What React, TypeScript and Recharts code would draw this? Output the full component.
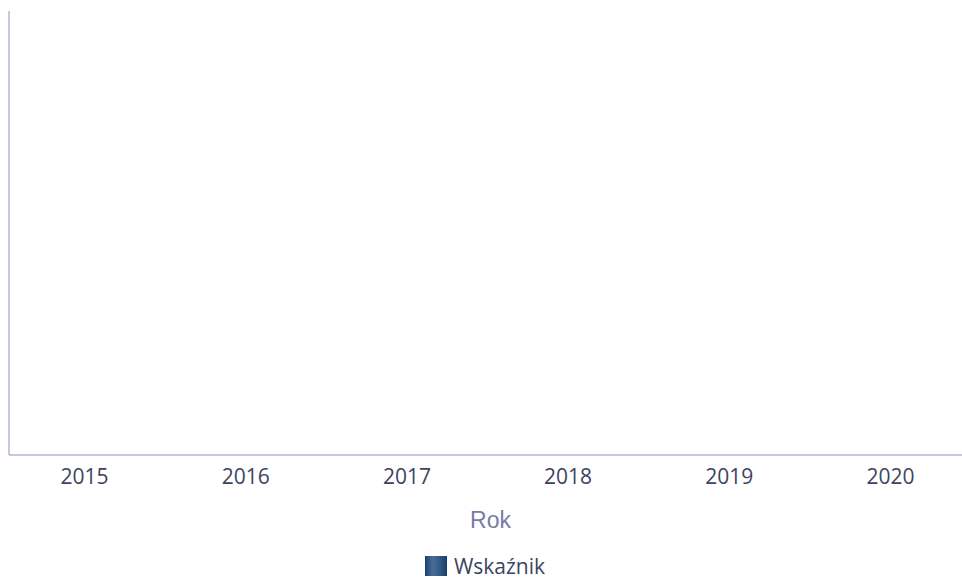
import React from 'react';
import { BarChart, Bar, XAxis, YAxis, Legend } from 'recharts';

const years = ['2015', '2016', '2017', '2018', '2019', '2020'];
const wskaznik = [0, 0, 0, 0, 0, 0];
const seriesName = 'Wskaźnik';
const xLabel = 'Rok';

const data = years.map((y, i) => ({ rok: y, wskaznik: wskaznik[i] }));

const axisColor = '#b6b6cf';
const tickColor = '#3e4360';

const LegendContent = () => (
  <div
    style={{
      display: 'flex',
      justifyContent: 'center',
      alignItems: 'center',
      height: 32,
      paddingTop: 10,
      paddingRight: 8,
      boxSizing: 'border-box',
      fontFamily: '"Open Sans", sans-serif',
      fontSize: 21,
      color: tickColor,
    }}
  >
    <span
      style={{
        display: 'inline-block',
        width: 22,
        height: 20,
        marginRight: 7,
        background:
          'linear-gradient(90deg, #1b3f6c 0%, #4a6d98 35%, #3a5f8c 60%, #1a3d6a 100%)',
      }}
    />
    <span style={{ lineHeight: '20px' }}>{seriesName}</span>
  </div>
);

const RokLabel = (props: any) => {
  const vb = props.viewBox || {};
  const cx = vb.x + vb.width / 2 + 1;
  const y = vb.y + vb.height - 17;
  return (
    <text
      x={cx}
      y={y}
      textAnchor="middle"
      fill="#7a7aa8"
      fontFamily='"Liberation Sans", Arial, sans-serif'
      fontSize={23}
    >
      {xLabel}
    </text>
  );
};

export default function App() {
  return (
    <div
      style={{
        position: 'fixed',
        left: 0,
        top: 0,
        width: 962,
        height: 577,
        overflow: 'hidden',
        background: '#ffffff',
      }}
    >
      <div style={{ position: 'absolute', left: 8, top: 8 }}>
        <BarChart
          width={962}
          height={569}
          data={data}
          margin={{ top: 3, right: 0, bottom: 0, left: 0 }}
        >
          <defs>
            <linearGradient id="barGrad" x1="0" y1="0" x2="1" y2="0">
              <stop offset="0%" stopColor="#1b3f6c" />
              <stop offset="35%" stopColor="#4a6d98" />
              <stop offset="60%" stopColor="#3a5f8c" />
              <stop offset="100%" stopColor="#1a3d6a" />
            </linearGradient>
          </defs>
          <XAxis
            dataKey="rok"
            height={90}
            padding={{ left: -5, right: -1 }}
            tickLine={false}
            tickMargin={8}
            axisLine={{ stroke: axisColor, strokeWidth: 1.5 }}
            tick={{ fill: tickColor, fontSize: 21, fontFamily: '"Open Sans", sans-serif' }}
            label={<RokLabel />}
          />
          <YAxis
            width={1}
            tick={false}
            tickLine={false}
            axisLine={{ stroke: axisColor, strokeWidth: 1.5 }}
            domain={[0, 'auto']}
          />
          <Legend verticalAlign="bottom" height={32} content={<LegendContent />} />
          <Bar
            dataKey="wskaznik"
            name={seriesName}
            fill="url(#barGrad)"
            isAnimationActive={false}
          />
        </BarChart>
      </div>
    </div>
  );
}
